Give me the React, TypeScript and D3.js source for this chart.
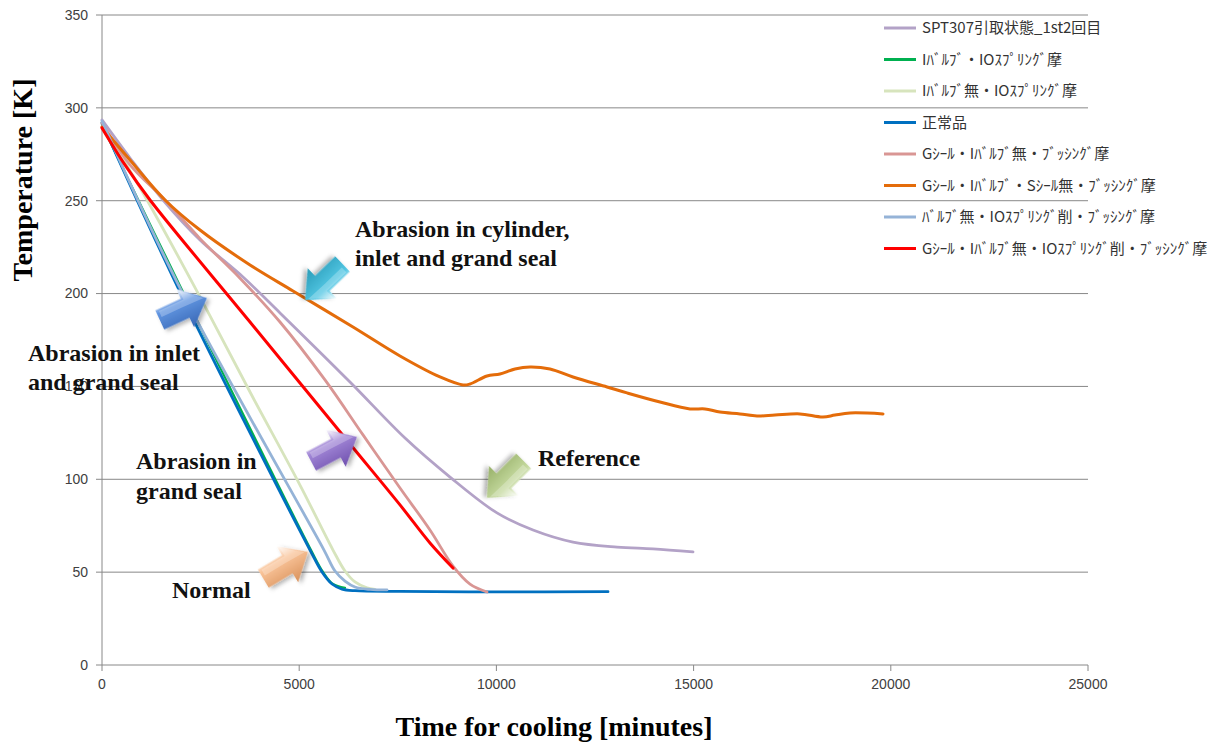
import React from 'react';
import * as d3 from 'd3';

// ---- Data (time in minutes, temperature in K) ----
const refTime = [0, 710, 1547, 2485, 3575, 4513, 6288, 7683, 8824, 10015, 10928, 11942, 13058, 13971, 14985];
const refTemp = [293.5, 273.0, 250.4, 228.9, 208.9, 189.6, 152.4, 122.2, 101.2, 81.9, 72.7, 66.2, 63.5, 62.5, 60.9];

const greenTime = [0, 2054, 5299, 5603, 5857, 6161];
const greenTemp = [290.8, 200.9, 61.9, 50.1, 43.6, 41.5];

const paleGreenTime = [0, 1141, 2485, 3753, 5020, 5857, 6161, 6415, 6719, 6922];
const paleGreenTemp = [291.3, 250.4, 198.2, 147.0, 96.9, 61.9, 50.6, 44.7, 41.5, 40.7];

const normalTime = [0, 1978, 5274, 5578, 5832, 6085, 6415, 7556, 10091, 12830];
const normalTemp = [291.9, 200.9, 61.9, 50.1, 43.6, 40.9, 40.0, 39.6, 39.4, 39.5];

const pinkTime = [0, 710, 1597, 2485, 3499, 4513, 5654, 6618, 7556, 8316, 8900, 9331, 9762];
const pinkTemp = [291.9, 269.3, 250.4, 229.6, 208.3, 184.7, 153.5, 123.9, 95.3, 72.7, 53.3, 43.6, 39.3];

const orangeTime = [0, 710, 1597, 2485, 3753, 4843, 6364, 7556, 8570, 9153, 9331, 9762, 10091, 10472, 10852, 11359, 11942, 12804, 13311, 14148, 14909, 15289, 15669, 16176, 16607, 17064, 17698, 18281, 18585, 18966, 19802];
const orangeTemp = [289.7, 271.9, 250.4, 234.2, 215.4, 201.4, 182.0, 166.4, 155.1, 150.8, 151.3, 155.6, 156.7, 159.4, 160.5, 159.4, 155.1, 149.7, 146.5, 141.6, 137.9, 137.9, 136.2, 135.2, 134.1, 134.6, 135.2, 133.5, 134.6, 135.7, 135.2];

const paleBlueTime = [0, 2028, 5629, 5908, 6161, 6415, 6795, 7226];
const paleBlueTemp = [292.9, 200.9, 61.9, 50.6, 45.2, 42.0, 40.7, 40.4];

const redTime = [0, 583, 1217, 3753, 6288, 7556, 8316, 8900];
const redTemp = [289.2, 269.3, 250.4, 184.7, 119.0, 86.2, 65.7, 52.2];

const seriesNames = [
  'SPT307引取状態_1st2回目',
  'Iﾊﾞﾙﾌﾞ・IOｽﾌﾟﾘﾝｸﾞ摩',
  'Iﾊﾞﾙﾌﾞ無・IOｽﾌﾟﾘﾝｸﾞ摩',
  '正常品',
  'Gｼｰﾙ・Iﾊﾞﾙﾌﾞ無・ﾌﾞｯｼﾝｸﾞ摩',
  'Gｼｰﾙ・Iﾊﾞﾙﾌﾞ・Sｼｰﾙ無・ﾌﾞｯｼﾝｸﾞ摩',
  'ﾊﾞﾙﾌﾞ無・IOｽﾌﾟﾘﾝｸﾞ削・ﾌﾞｯｼﾝｸﾞ摩',
  'Gｼｰﾙ・Iﾊﾞﾙﾌﾞ無・IOｽﾌﾟﾘﾝｸﾞ削・ﾌﾞｯｼﾝｸﾞ摩',
];
const seriesTimes = [refTime, greenTime, paleGreenTime, normalTime, pinkTime, orangeTime, paleBlueTime, redTime];
const seriesTemps = [refTemp, greenTemp, paleGreenTemp, normalTemp, pinkTemp, orangeTemp, paleBlueTemp, redTemp];
const seriesColors = ['#B3A2C7', '#00B050', '#D7E4BD', '#0070C0', '#D99694', '#E46C0A', '#95B3D7', '#FF0000'];
const seriesWidths = [2.8, 2.2, 2.8, 2.8, 2.8, 3, 2.8, 3];

const xTicks = [0, 5000, 10000, 15000, 20000, 25000];
const yTicks = [0, 50, 100, 150, 200, 250, 300, 350];

// Annotation arrows: tip in data coords, direction angle in degrees (screen)
const arrowTipTime = [5150, 2660, 6465, 9760, 5220];
const arrowTipTemp = [196.5, 197.6, 122.8, 90, 60.9];
const arrowAngles = [136, -25, -28, 135, -31];
const arrowColors = ['#52C6E3', '#6094E0', '#A186D6', '#C5D99F', '#F9C398'];
const arrowDark = ['#2A9CB8', '#3867B5', '#6F50AE', '#97B068', '#D9925C'];

const W = 1222, H = 744;

function BlockArrow({ x, y, angle, color, dark, id }: any) {
  const L = 52, HL = 24, HW = 42, SW = 21;
  const pts: [number, number][] = [[0, 0], [-HL, -HW / 2], [-HL, -SW / 2], [-L, -SW / 2], [-L, SW / 2], [-HL, SW / 2], [-HL, HW / 2]];
  const hi: [number, number][] = [[-3, -1.5], [-HL + 2, -HW / 2 + 3], [-HL + 2, -SW / 2 + 2], [-L + 3, -SW / 2 + 2], [-L + 3, -2], [-HL - 2, -2]];
  return (
    <g transform={`translate(${x},${y}) rotate(${angle})`}>
      <defs>
        <linearGradient id={id} x1="0" y1="0" x2="0" y2="1">
          <stop offset="0" stopColor="#ffffff" />
          <stop offset="0.35" stopColor={color} />
          <stop offset="1" stopColor={dark} />
        </linearGradient>
      </defs>
      <polygon points={pts.map(p => p.join(',')).join(' ')} fill={`url(#${id})`} filter="url(#shadow)" />
      <polygon points={hi.map(p => p.join(',')).join(' ')} fill="#ffffff" opacity={0.25} />
    </g>
  );
}

export default function App() {
  const x = d3.scaleLinear().domain([0, 25000]).range([102, 1088]);
  const y = d3.scaleLinear().domain([0, 350]).range([665, 15]);
  const line = d3.line<[number, number]>().x(d => x(d[0])).y(d => y(d[1])).curve(d3.curveCatmullRom.alpha(0.5));

  const tickFont = '"Liberation Sans", Arial, sans-serif';
  const serif = '"Liberation Serif", "Times New Roman", serif';
  const legendFont = '"Noto Sans CJK JP", "Noto Sans", sans-serif';

  return (
    <svg width={W} height={H} style={{ position: 'absolute', left: 0, top: 0, background: '#fff' }}>
      <defs>
        <filter id="shadow" x="-30%" y="-30%" width="160%" height="160%">
          <feDropShadow dx="2" dy="3" stdDeviation="2" floodColor="#000" floodOpacity="0.3" />
        </filter>
      </defs>
      {/* gridlines */}
      {yTicks.map(t => (
        <line key={'g' + t} x1={96} x2={x(25000)} y1={y(t)} y2={y(t)} stroke="#888" strokeWidth={1} />
      ))}
      {/* axes */}
      <line x1={x(0)} x2={x(0)} y1={y(350)} y2={y(0)} stroke="#888" strokeWidth={1} />
      {xTicks.map(t => (
        <line key={'xt' + t} x1={x(t)} x2={x(t)} y1={y(0)} y2={y(0) + 6} stroke="#888" strokeWidth={1} />
      ))}
      {yTicks.map(t => (
        <text key={'yl' + t} x={88} y={y(t)} dy="0.35em" textAnchor="end" fontFamily={tickFont} fontSize={14} fill="#404040">{t}</text>
      ))}
      {xTicks.map(t => (
        <text key={'xl' + t} x={x(t)} y={689} textAnchor="middle" fontFamily={tickFont} fontSize={14} fill="#404040">{t}</text>
      ))}
      {/* series */}
      {seriesNames.map((n, i) => {
        const pts = seriesTimes[i].map((t, j) => [t, seriesTemps[i][j]] as [number, number]);
        return <path key={n} d={line(pts) || ''} fill="none" stroke={seriesColors[i]} strokeWidth={seriesWidths[i]} strokeLinejoin="round" strokeLinecap="round" />;
      })}
      {/* legend */}
      {seriesNames.map((n, i) => {
        const ly = 28 + i * 31.5;
        return (
          <g key={'lg' + i}>
            <line x1={884} x2={916} y1={ly} y2={ly} stroke={seriesColors[i]} strokeWidth={3} />
            <text x={922} y={ly} dy="0.35em" fontFamily={legendFont} fontSize={15} fill="#333">{n}</text>
          </g>
        );
      })}
      {/* arrows */}
      {arrowAngles.map((a, i) => (
        <BlockArrow key={'ar' + i} id={'arg' + i} x={x(arrowTipTime[i])} y={y(arrowTipTemp[i])} angle={a} color={arrowColors[i]} dark={arrowDark[i]} />
      ))}
      {/* annotation text */}
      <g fontFamily={serif} fontWeight="bold" fontSize={24} fill="#111">
        <text x={355} y={237}>Abrasion in cylinder,</text>
        <text x={355} y={266}>inlet and grand seal</text>
        <text x={28} y={361}>Abrasion in inlet</text>
        <text x={28} y={390}>and grand seal</text>
        <text x={136} y={469}>Abrasion in</text>
        <text x={136} y={499}>grand seal</text>
        <text x={538} y={466}>Reference</text>
        <text x={172} y={598}>Normal</text>
      </g>
      {/* axis titles */}
      <text transform={`translate(32,${180}) rotate(-90)`} textAnchor="middle" fontFamily={serif} fontWeight="bold" fontSize={28} fill="#000">Temperature [K]</text>
      <text x={554} y={736} textAnchor="middle" fontFamily={serif} fontWeight="bold" fontSize={28} fill="#000">Time for cooling [minutes]</text>
    </svg>
  );
}
